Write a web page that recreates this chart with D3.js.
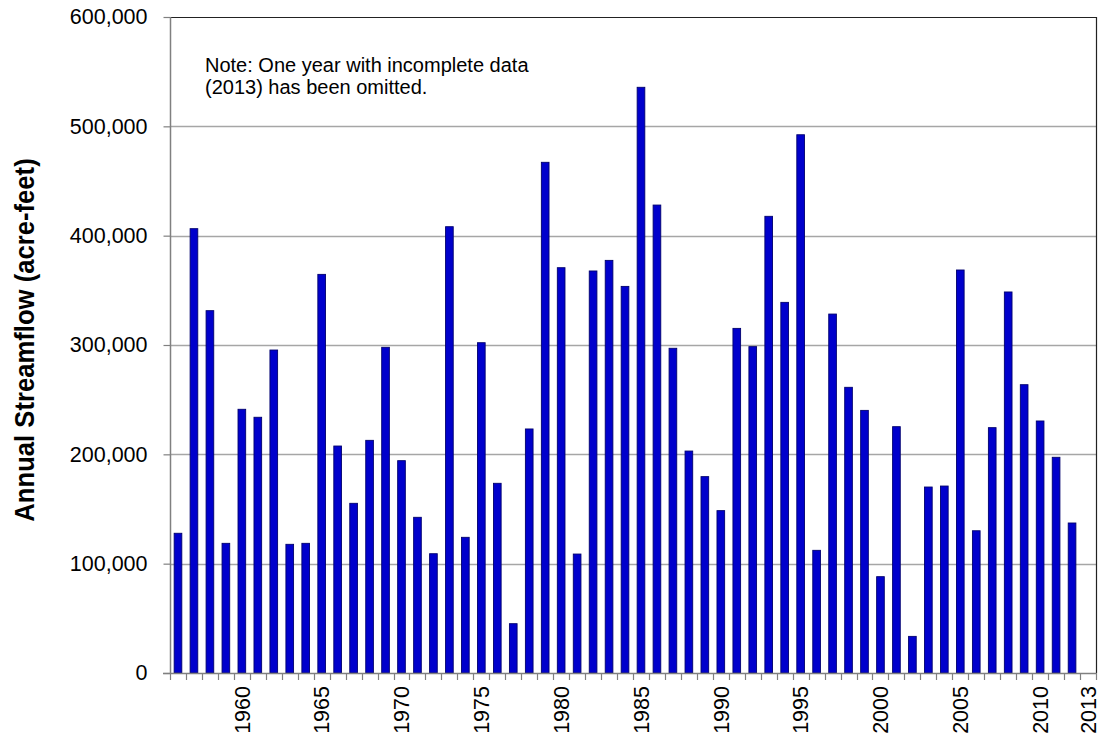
<!DOCTYPE html>
<html>
<head>
<meta charset="utf-8">
<script src="https://cdn.jsdelivr.net/npm/d3@7"></script>
<style>
  html, body { margin: 0; padding: 0; background: #fff; }
  svg { display: block; }
  text { font-family: "Liberation Sans", Arial, sans-serif; }
</style>
</head>
<body>
<svg id="chart" width="1103" height="742"></svg>
<script>
// ---- data ----
const years = d3.range(1956, 2014); // 1956..2013 (2013 omitted: incomplete)
const flowYears = d3.range(1956, 2013);
const flows = [
  127800, 406400, 331400, 118600, 241200, 233900, 295400, 117700, 118600, 364600,
  207600, 155200, 212800, 297900, 194200, 142400, 109100, 408200, 124100, 302100,
  173500, 45100, 223200, 467100, 370700, 108800, 367700, 377400, 353600, 535700,
  428000, 297000, 203000, 179600, 148500, 315200, 298500, 417700, 339000, 492300,
  112200, 328300, 261300, 240200, 88100, 225300, 33500, 170100, 171000, 368600,
  130100, 224400, 348500, 263700, 230500, 197300, 137200
];
const labeledYears = [1960, 1965, 1970, 1975, 1980, 1985, 1990, 1995, 2000, 2005, 2010, 2013];
const yTicks = [0, 100000, 200000, 300000, 400000, 500000, 600000];
const yTitle = "Annual Streamflow (acre-feet)";
const noteLines = ["Note: One year with incomplete data", "(2013) has been omitted."];

// ---- layout ----
const L = 170, R = 1096, T = 17, B = 673;
const svg = d3.select("#chart");
svg.append("rect").attr("width", 1103).attr("height", 742).attr("fill", "#fff");

const x = d3.scaleBand().domain(years).range([L, R]).paddingInner(0.52).paddingOuter(0.26);
const xb = d3.scaleBand().domain(years).range([L, R]).padding(0);
const y = d3.scaleLinear().domain([0, 600000]).range([B, T]);

// gridlines
svg.append("g").selectAll("line").data(yTicks.filter(d => d > 0 && d < 600000)).join("line")
  .attr("x1", L).attr("x2", R)
  .attr("y1", d => Math.round(y(d)) + 0.5).attr("y2", d => Math.round(y(d)) + 0.5)
  .attr("stroke", "#a6a6a6").attr("stroke-width", 1.3);

// plot border (top & right)
svg.append("path")
  .attr("d", `M${L},${T + 0.5}H${R + 0.5}V${B}`)
  .attr("fill", "none").attr("stroke", "#222").attr("stroke-width", 1.2);

// bars
const data = flowYears.map((yr, i) => ({ year: yr, v: flows[i] }));
svg.append("g").selectAll("rect").data(data).join("rect")
  .attr("x", d => x(d.year))
  .attr("y", d => y(d.v))
  .attr("width", x.bandwidth())
  .attr("height", d => B - y(d.v))
  .attr("fill", "#0000cc")
  .attr("stroke", "#00006e")
  .attr("stroke-width", 0.9);

// y axis
const yAxis = d3.axisLeft(y).tickValues(yTicks).tickFormat(d3.format(",")).tickSize(7).tickPadding(16);
const gy = svg.append("g").attr("transform", `translate(${L + 0.5},0)`).call(yAxis);
gy.select(".domain").attr("stroke", "#808080").attr("stroke-width", 1.5).attr("d", `M0,${T}V${B}`);
gy.selectAll(".tick line").attr("stroke", "#808080").attr("stroke-width", 1.2);
gy.selectAll(".tick text").attr("font-size", 21.5).attr("fill", "#000")
  .attr("font-family", '"Liberation Sans", Arial, sans-serif');

// x axis: tick marks at band boundaries
const boundaries = years.map(yr => xb(yr)).concat([R]);
svg.append("g").selectAll("line").data(boundaries).join("line")
  .attr("x1", d => Math.round(d) + 0.5).attr("x2", d => Math.round(d) + 0.5)
  .attr("y1", B).attr("y2", B + 7)
  .attr("stroke", "#808080").attr("stroke-width", 1.2);
svg.append("line").attr("x1", L - 7).attr("x2", R + 0.5).attr("y1", B + 0.5).attr("y2", B + 0.5)
  .attr("stroke", "#808080").attr("stroke-width", 1.5);

// x labels via axis
const xAxis = d3.axisBottom(xb).tickValues(labeledYears).tickSize(0).tickPadding(0);
const gx = svg.append("g").attr("transform", `translate(0,${B})`).call(xAxis);
gx.select(".domain").remove();
gx.selectAll(".tick text")
  .attr("font-size", 21.5).attr("fill", "#000")
  .attr("font-family", '"Liberation Sans", Arial, sans-serif')
  .attr("text-anchor", "end")
  .attr("transform", "rotate(-90)")
  .attr("x", -13).attr("y", 0).attr("dy", "0.36em");

// y title
svg.append("text")
  .attr("transform", `translate(34,${(T + B) / 2 - 5}) rotate(-90) scale(0.95,1)`)
  .attr("text-anchor", "middle")
  .attr("font-size", 27).attr("font-weight", "bold").attr("fill", "#000")
  .text(yTitle);

// note
const note = svg.append("text").attr("x", 205).attr("y", 72)
  .attr("font-size", 20).attr("fill", "#000");
noteLines.forEach((t, i) => note.append("tspan").attr("x", 205).attr("y", 72 + i * 22).text(t));
</script>
</body>
</html>
